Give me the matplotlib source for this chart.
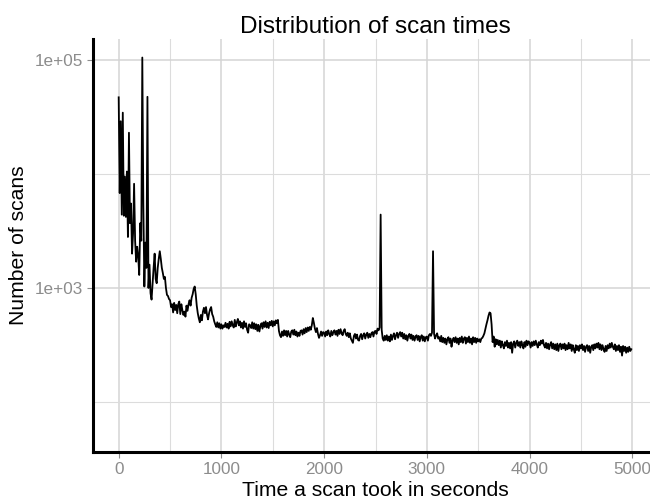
import numpy as np
import matplotlib.pyplot as plt
from matplotlib.ticker import FixedLocator, FuncFormatter

plt.rcParams['font.family'] = ['Liberation Sans', 'DejaVu Sans']

# scan counts per 10 second bin
bin_width = 10

counts_0000 = [
    47000, 6800, 29000, 4400, 34500, 4300, 9500, 4200, 10500, 2800,
    23000, 3700, 5500, 2000, 3000, 8200, 2600, 1700, 2300, 1900,
    1300, 3700, 2600, 105000, 5500, 1030, 2500, 1500, 47500, 1000,
    1600, 900, 790, 1100, 1500, 2000, 1200, 1100, 1500, 1800,
    2100, 1800, 1500, 1350, 1200, 1250, 1000, 870, 850, 800,
    780, 680, 720, 610, 740, 640, 710, 600, 720, 760,
    590, 720, 640, 580, 620, 560, 700, 630, 720, 780,
    700, 820, 880, 980, 1030, 880, 700, 600, 540, 500,
    580, 520, 620, 670, 600, 680, 580, 530, 600, 650,
    680, 590, 560, 510, 480, 455, 500, 450, 490, 440,
]
counts_1000 = [
    480, 440, 470, 455, 495, 450, 485, 440, 505, 460,
    510, 470, 450, 525, 460, 500, 535, 470, 510, 450,
    495, 440, 510, 455, 490, 430, 405, 480, 470, 445,
    500, 440, 490, 435, 480, 420, 475, 415, 465, 490,
    440, 500, 455, 510, 450, 495, 445, 505, 470, 515,
    460, 510, 470, 520, 490, 525, 420, 385, 370, 415,
    380, 425, 385, 420, 375, 420, 390, 370, 415, 425,
    390, 430, 385, 415, 375, 405, 380, 420, 425, 390,
    435, 400, 445, 410, 450, 420, 455, 430, 470, 545,
    495, 440, 410, 445, 395, 365, 385, 415, 380, 410,
]
counts_2000 = [
    405, 375, 415, 385, 425, 395, 375, 420, 385, 410,
    425, 390, 420, 380, 430, 395, 435, 400, 385, 420,
    435, 395, 380, 405, 370, 400, 360, 345, 330, 380,
    395, 360, 390, 350, 345, 380, 395, 355, 385, 400,
    360, 390, 405, 365, 395, 370, 400, 410, 375, 415,
    420, 395, 440, 425, 450, 4400, 430, 360, 345, 380,
    350, 385, 345, 375, 340, 390, 350, 380, 400, 355,
    385, 405, 365, 395, 410, 375, 405, 360, 395, 355,
    385, 345, 380, 395, 360, 390, 350, 380, 345, 375,
    385, 350, 380, 340, 370, 385, 345, 375, 340, 370,
]
counts_3000 = [
    375, 345, 385, 395, 380, 405, 2100, 395, 360, 385,
    400, 360, 370, 340, 380, 335, 365, 330, 360, 320,
    355, 370, 330, 360, 305, 345, 365, 335, 370, 330,
    360, 320, 365, 335, 375, 330, 360, 370, 325, 365,
    335, 375, 330, 360, 320, 370, 335, 365, 330, 360,
    340, 355, 335, 360, 365, 380, 400, 440, 480, 520,
    570, 610, 600, 480, 335, 375, 305, 355, 320, 350,
    315, 345, 300, 340, 315, 295, 335, 310, 345, 300,
    330, 295, 335, 270, 325, 340, 300, 330, 345, 310,
    335, 300, 340, 315, 295, 335, 305, 345, 315, 340,
]
counts_4000 = [
    330, 300, 335, 310, 340, 315, 345, 320, 300, 335,
    315, 345, 325, 350, 315, 300, 330, 295, 325, 290,
    320, 335, 295, 325, 290, 320, 285, 325, 280, 315,
    325, 290, 320, 295, 325, 285, 315, 290, 330, 295,
    320, 280, 315, 290, 270, 315, 285, 310, 280, 315,
    295, 320, 285, 310, 275, 305, 315, 280, 310, 270,
    305, 315, 285, 320, 295, 325, 300, 330, 290, 320,
    285, 315, 290, 275, 310, 280, 315, 295, 325, 300,
    330, 305, 290, 320, 280, 310, 285, 315, 275, 305,
    255, 310, 280, 305, 270, 300, 275, 305, 280, 290,
]

counts = counts_0000 + counts_1000 + counts_2000 + counts_3000 + counts_4000
seconds = np.arange(len(counts)) * bin_width

x_major = [0, 1000, 2000, 3000, 4000, 5000]
x_minor = [500, 1500, 2500, 3500, 4500]
y_major = [1e3, 1e5]
y_minor = [1e2, 1e4]

fig = plt.figure(figsize=(6.5, 5), dpi=100)
ax = fig.add_axes([93 / 650, 48 / 500, 565 / 650, 413 / 500])

ax.plot(seconds, counts, color='black', lw=1.3, zorder=3)
ax.set_yscale('log')
ax.set_xlim(-250, 5250)
ax.set_ylim(36.4, 152700)

ax.xaxis.set_major_locator(FixedLocator(x_major))
ax.xaxis.set_minor_locator(FixedLocator(x_minor))
ax.yaxis.set_major_locator(FixedLocator(y_major))
ax.yaxis.set_minor_locator(FixedLocator(y_minor))
ax.yaxis.set_major_formatter(FuncFormatter(lambda v, p: '1e+%02d' % round(np.log10(v))))
ax.yaxis.set_minor_formatter(FuncFormatter(lambda v, p: ''))

ax.grid(which='major', color='#d4d4d4', lw=1.1)
ax.grid(which='minor', color='#dcdcdc', lw=0.8)
ax.set_axisbelow(True)

for side in ['top', 'right']:
    ax.spines[side].set_visible(False)
for side in ['left', 'bottom']:
    ax.spines[side].set_color('black')
    ax.spines[side].set_linewidth(2.2)

ax.tick_params(which='major', length=4, width=0.8, color='#8c8c8c',
               labelcolor='#8c8c8c', labelsize=12.3, pad=3)
ax.tick_params(which='minor', length=0)

ax.set_title('Distribution of scan times', fontsize=17.5, pad=4)
ax.set_xlabel('Time a scan took in seconds', fontsize=15.2, labelpad=3)
ax.set_ylabel('Number of scans', fontsize=15.2, labelpad=5)

fig.savefig('out.png', dpi=100)
